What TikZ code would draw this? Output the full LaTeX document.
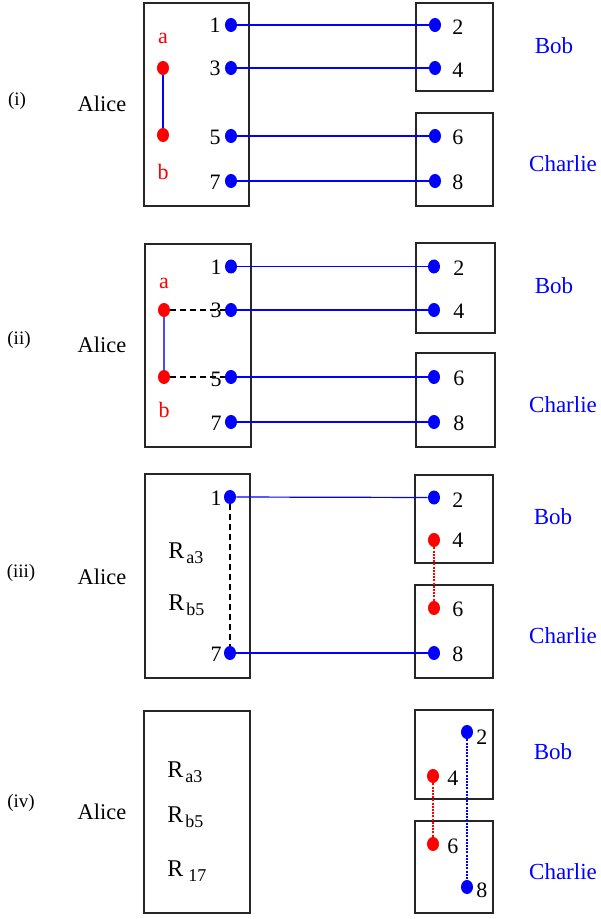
\documentclass[tikz,border=0pt]{standalone}
\usepackage{fontspec}
\setmainfont{Liberation Serif}
\newfontfamily\tms{Liberation Serif}
\usetikzlibrary{shapes.geometric,fit}
\newcommand\Rsub[1]{{\tms\fontsize{12}{14}\selectfont R}\hspace{1pt}\raisebox{-2.5pt}{\tms\fontsize{9}{10}\selectfont #1}}
\begin{document}
\begin{tikzpicture}[x=0.5pt,y=-0.5pt,
  box/.style={draw=black!85, line width=0.65pt, inner sep=0pt},
  boxthick/.style={box, line width=1pt},
  bdot/.style={ellipse, fill=blue, minimum width=6pt, minimum height=7pt, inner sep=0pt},
  rdot/.style={ellipse, fill=red, minimum width=6pt, minimum height=7pt, inner sep=0pt},
  wire/.style={blue, line width=0.6pt},
  lwire/.style={blue!70, line width=0.7pt},
  dwire/.style={black, line width=1pt, dash pattern=on 3pt off 2pt},
  rdotted/.style={red, line width=1pt, dash pattern=on 1pt off 0.6pt},
  bdotted/.style={blue, line width=1pt, dash pattern=on 1pt off 0.6pt},
  numl/.style={anchor=east, inner sep=0pt, font=\tms\fontsize{11}{13}\selectfont},
  numr/.style={anchor=west, inner sep=0pt, font=\tms\fontsize{11}{13}\selectfont},
  rlet/.style={inner sep=0pt, text=red, font=\tms\fontsize{11}{13}\selectfont},
  tag/.style={inner sep=0pt, font=\tms\fontsize{9.5}{11}\selectfont},
  alice/.style={inner sep=0pt, font=\tms\fontsize{11.2}{13}\selectfont},
  person/.style={inner sep=0pt, text=blue, font=\tms\fontsize{11.5}{13}\selectfont},
  rl/.style={anchor=base west, inner sep=0pt}
]
\useasboundingbox (0,0) rectangle (600,919);

%%%%%%%%%% Panel (i)
\node[box, fit={(144,3)(249,206)}] (Ai) {};
\node[box, fit={(416,3)(493,91)}] (Bi) {};
\node[box, fit={(416,113)(493,206)}] (Ci) {};
\node[tag] (ti) at (17,101) {(i)};
\node[alice] (ali) at (102,104) {Alice};
\node[person] (bobi) at (554,46) {Bob};
\node[person] (chi) at (563,164) {Charlie};
\node[bdot] (i1) at (231,25) {};
\node[bdot] (i3) at (231,68) {};
\node[bdot] (i5) at (231,136) {};
\node[bdot] (i7) at (231,181) {};
\node[bdot] (i2) at (435,25) {};
\node[bdot] (i4) at (435,68) {};
\node[bdot] (i6) at (435,136) {};
\node[bdot] (i8) at (435,181) {};
\node[rdot] (ia) at (163,68) {};
\node[rdot] (ib) at (163,135) {};
\node[rlet] (lai) at (163,38) {a};
\node[rlet] (lbi) at (163,172) {b};
\node[numl] (n1i) at (221,25) {1};
\node[numl] (n3i) at (221,68) {3};
\node[numl] (n5i) at (221,137) {5};
\node[numl] (n7i) at (221,182) {7};
\node[numr] (n2i) at (452,27) {2};
\node[numr] (n4i) at (452,70) {4};
\node[numr] (n6i) at (452,137) {6};
\node[numr] (n8i) at (452,182) {8};
\draw[wire] (i1) -- (i2);
\draw[wire] (i3) -- (i4);
\draw[wire] (i5) -- (i6);
\draw[wire] (i7) -- (i8);
\draw[wire] (ia) -- (ib);

%%%%%%%%%% Panel (ii)
\node[boxthick, fit={(145,244)(251,447)}] (Aii) {};
\node[boxthick, fit={(416,243)(495,333)}] (Bii) {};
\node[boxthick, fit={(416,353)(495,447)}] (Cii) {};
\node[tag] (tii) at (19,340) {(ii)};
\node[alice] (alii) at (102,345) {Alice};
\node[person] (bobii) at (554,286) {Bob};
\node[person] (chii) at (563,405) {Charlie};
\node[numl] (n1ii) at (222,267) {1};
\node[numl] (n3ii) at (222,310) {3};
\node[numl] (n5ii) at (222,379) {5};
\node[numl] (n7ii) at (222,423) {7};
\node[numr] (n2ii) at (453,268) {2};
\node[numr] (n4ii) at (453,311) {4};
\node[numr] (n6ii) at (453,378) {6};
\node[numr] (n8ii) at (453,423) {8};
\node[bdot] (ii1) at (231,266.5) {};
\node[bdot] (ii3) at (231,310) {};
\node[bdot] (ii5) at (231,377) {};
\node[bdot] (ii7) at (231,422) {};
\node[bdot] (ii2) at (434,266.5) {};
\node[bdot] (ii4) at (434,310) {};
\node[bdot] (ii6) at (434,377) {};
\node[bdot] (ii8) at (434,422) {};
\node[rdot] (iia) at (164,310) {};
\node[rdot] (iib) at (164,377) {};
\node[rlet] (laii) at (164,283) {a};
\node[rlet] (lbii) at (164,410) {b};
\draw[wire] (ii1) -- (ii2);
\draw[wire] (ii3) -- (ii4);
\draw[wire] (ii5) -- (ii6);
\draw[wire] (ii7) -- (ii8);
\draw[lwire] (iia) -- (iib);
\draw[dwire] (iia) -- (ii3);
\draw[dwire] (iib) -- (ii5);

%%%%%%%%%% Panel (iii)
\node[box, fit={(145,474)(250,678)}] (Aiii) {};
\node[box, fit={(415,475)(493,563)}] (Biii) {};
\node[box, fit={(415,585)(493,678)}] (Ciii) {};
\node[tag] (tiii) at (21,573) {(iii)};
\node[alice] (aliii) at (102,577) {Alice};
\node[person] (bobiii) at (553,517) {Bob};
\node[person] (chiii) at (563,636) {Charlie};
\node[rl] (ra3iii) at (168,558) {\Rsub{a3}};
\node[rl] (rb5iii) at (168,610) {\Rsub{b5}};
\node[numl] (n1iii) at (222,498) {1};
\node[numl] (n7iii) at (222,654) {7};
\node[numr] (n2iii) at (452,500) {2};
\node[numr] (n4iii) at (452,540) {4};
\node[numr] (n6iii) at (452,609) {6};
\node[numr] (n8iii) at (452,654) {8};
\node[bdot] (iii1) at (230,497) {};
\node[bdot] (iii7) at (230,653) {};
\node[bdot] (iii2) at (434,497.5) {};
\node[rdot] (iii4) at (434,540) {};
\node[rdot] (iii6) at (434,608) {};
\node[bdot] (iii8) at (434,653) {};
\draw[wire] (iii1) -- (iii2);
\draw[wire] (iii7) -- (iii8);
\draw[dwire] (iii1) -- (iii7);
\draw[rdotted] (iii4) -- (iii6);

%%%%%%%%%% Panel (iv)
\node[box, fit={(144,711)(250,913)}] (Aiv) {};
\node[box, fit={(415,710)(493,799)}] (Biv) {};
\node[box, fit={(415,821)(493,913)}] (Civ) {};
\node[tag] (tiv) at (21,803) {(iv)};
\node[alice] (aliv) at (102,812) {Alice};
\node[person] (bobiv) at (553,752) {Bob};
\node[person] (chiv) at (563,872) {Charlie};
\node[rl] (ra3iv) at (167,777) {\Rsub{a3}};
\node[rl] (rb5iv) at (167,822) {\Rsub{b5}};
\node[rl] (r17iv) at (167,876) {\Rsub{\,17}};
\node[bdot] (iv2) at (467,732) {};
\node[rdot] (iv4) at (433,776) {};
\node[rdot] (iv6) at (433,844) {};
\node[bdot] (iv8) at (467,887) {};
\node[numr] (n2iv) at (476,737) {2};
\node[numr] (n4iv) at (447,778) {4};
\node[numr] (n6iv) at (447,846.5) {6};
\node[numr] (n8iv) at (476,890) {8};
\draw[rdotted] (iv4) -- (iv6);
\draw[bdotted] (iv2) -- (iv8);
\end{tikzpicture}
\end{document}
